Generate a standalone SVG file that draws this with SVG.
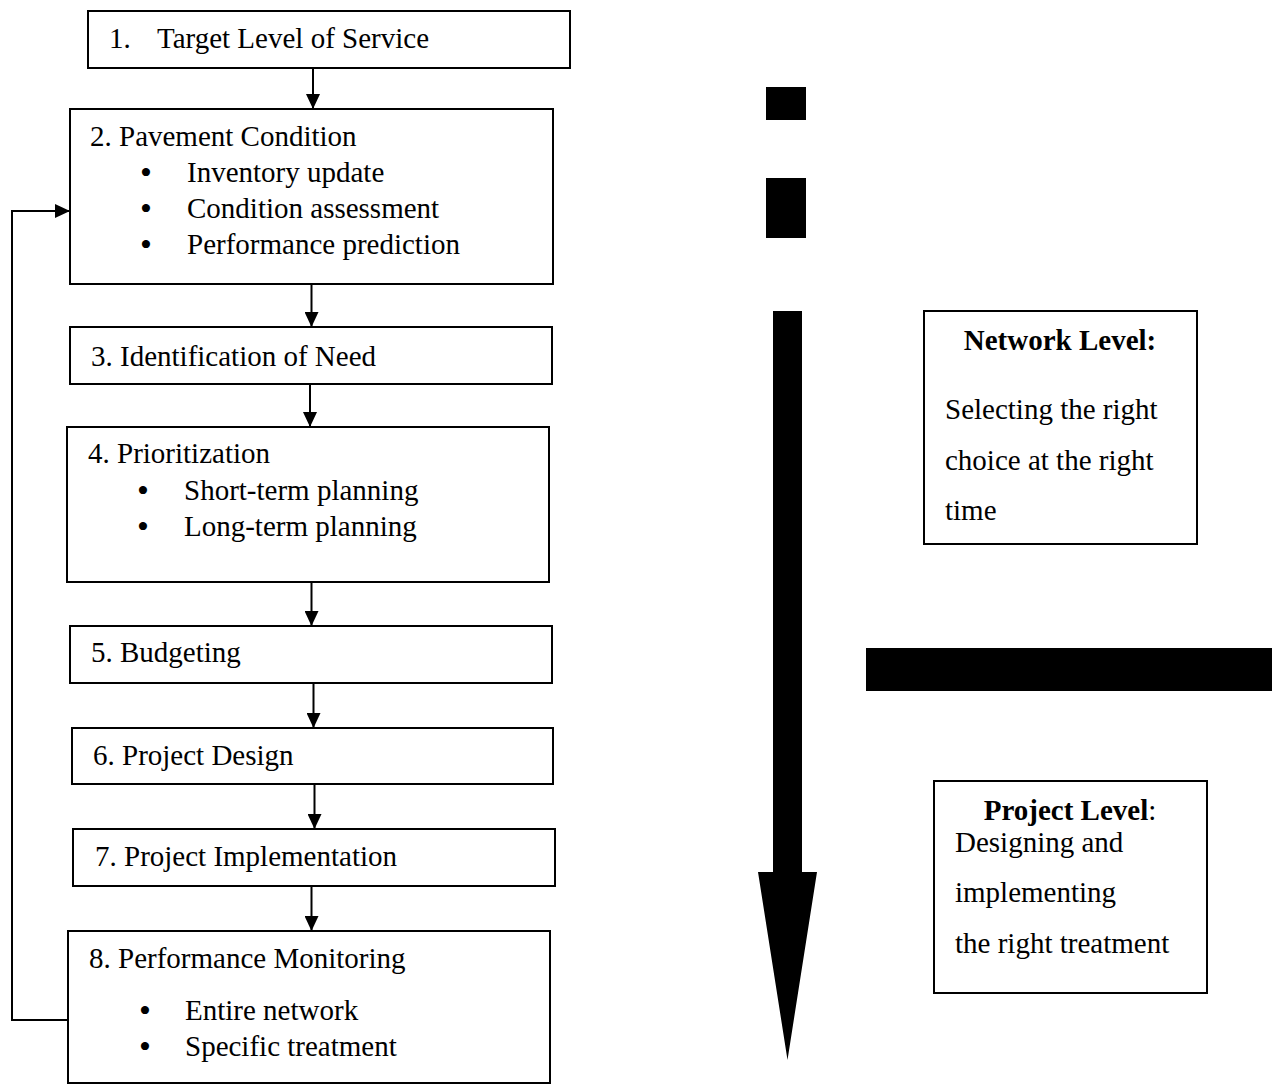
<svg xmlns="http://www.w3.org/2000/svg" width="1272" height="1084" viewBox="0 0 1272 1084">
<style>
  .box { fill: #fff; stroke: #000; stroke-width: 2; }
  .t { font-family: "Liberation Serif", "Times New Roman", serif; font-size: 29px; fill: #000; }
  .bul { font-family: "Liberation Serif", "Times New Roman", serif; font-size: 34px; fill: #000; text-anchor: middle; }
  .b { font-weight: bold; }
  .con { fill: none; stroke: #000; stroke-width: 2; }
  .solid { fill: #000; stroke: none; }
</style>
<defs>
  <marker id="ah" viewBox="0 0 15 14" refX="15" refY="7" markerWidth="15" markerHeight="14" markerUnits="userSpaceOnUse" orient="auto">
    <path d="M0,0 L15,7 L0,14 z" fill="#000"/>
  </marker>
</defs>
<rect width="1272" height="1084" fill="#fff"/>

<g id="connectors">
  <line class="con" x1="313" y1="68" x2="313" y2="109" marker-end="url(#ah)"/>
  <line class="con" x1="311.5" y1="284" x2="311.5" y2="327" marker-end="url(#ah)"/>
  <line class="con" x1="310" y1="384" x2="310" y2="427" marker-end="url(#ah)"/>
  <line class="con" x1="311.5" y1="582" x2="311.5" y2="626" marker-end="url(#ah)"/>
  <line class="con" x1="313.5" y1="683" x2="313.5" y2="728" marker-end="url(#ah)"/>
  <line class="con" x1="314.5" y1="784" x2="314.5" y2="829" marker-end="url(#ah)"/>
  <line class="con" x1="311.5" y1="886" x2="311.5" y2="931" marker-end="url(#ah)"/>
  <polyline class="con" points="68,1020 12,1020 12,211 70,211" marker-end="url(#ah)"/>
</g>

<g id="node1">
  <rect class="box" x="88" y="11" width="482" height="57"/>
  <text class="t" x="109" y="48">1.</text>
  <text class="t" x="157" y="48">Target Level of Service</text>
</g>

<g id="node2">
  <rect class="box" x="70" y="109" width="483" height="175"/>
  <text class="t" x="90" y="146">2. Pavement Condition</text>
  <text class="bul" x="146" y="184">•</text>
  <text class="t" x="187" y="182">Inventory update</text>
  <text class="bul" x="146" y="220">•</text>
  <text class="t" x="187" y="218">Condition assessment</text>
  <text class="bul" x="146" y="256">•</text>
  <text class="t" x="187" y="254">Performance prediction</text>
</g>

<g id="node3">
  <rect class="box" x="70" y="327" width="482" height="57"/>
  <text class="t" x="91" y="366">3. Identification of Need</text>
</g>

<g id="node4">
  <rect class="box" x="67" y="427" width="482" height="155"/>
  <text class="t" x="88" y="463">4. Prioritization</text>
  <text class="bul" x="143" y="502">•</text>
  <text class="t" x="184" y="500">Short-term planning</text>
  <text class="bul" x="143" y="538">•</text>
  <text class="t" x="184" y="536">Long-term planning</text>
</g>

<g id="node5">
  <rect class="box" x="70" y="626" width="482" height="57"/>
  <text class="t" x="91" y="662">5. Budgeting</text>
</g>

<g id="node6">
  <rect class="box" x="72" y="728" width="481" height="56"/>
  <text class="t" x="93" y="765">6. Project Design</text>
</g>

<g id="node7">
  <rect class="box" x="73" y="829" width="482" height="57"/>
  <text class="t" x="95" y="866">7. Project Implementation</text>
</g>

<g id="node8">
  <rect class="box" x="68" y="931" width="482" height="152"/>
  <text class="t" x="89" y="968">8. Performance Monitoring</text>
  <text class="bul" x="145" y="1022">•</text>
  <text class="t" x="185" y="1020">Entire network</text>
  <text class="bul" x="145" y="1058">•</text>
  <text class="t" x="185" y="1056">Specific treatment</text>
</g>

<g id="bars">
  <rect class="solid" x="766" y="87" width="40" height="33"/>
  <rect class="solid" x="766" y="178" width="40" height="60"/>
  <rect class="solid" x="866" y="648" width="406" height="43"/>
</g>

<g id="big-arrow">
  <polygon class="solid" points="773,311 802,311 802,872 817,872 787.5,1060 758,872 773,872"/>
</g>

<g id="network-level">
  <rect class="box" x="924" y="311" width="273" height="233"/>
  <text class="t b" x="1060" y="350" text-anchor="middle">Network Level:</text>
  <text class="t" x="945" y="419">Selecting the right</text>
  <text class="t" x="945" y="470">choice at the right</text>
  <text class="t" x="945" y="520">time</text>
</g>

<g id="project-level">
  <rect class="box" x="934" y="781" width="273" height="212"/>
  <text class="t" x="1070" y="820" text-anchor="middle"><tspan class="b">Project Level</tspan>:</text>
  <text class="t" x="955" y="852">Designing and</text>
  <text class="t" x="955" y="902">implementing</text>
  <text class="t" x="955" y="953">the right treatment</text>
</g>
</svg>
